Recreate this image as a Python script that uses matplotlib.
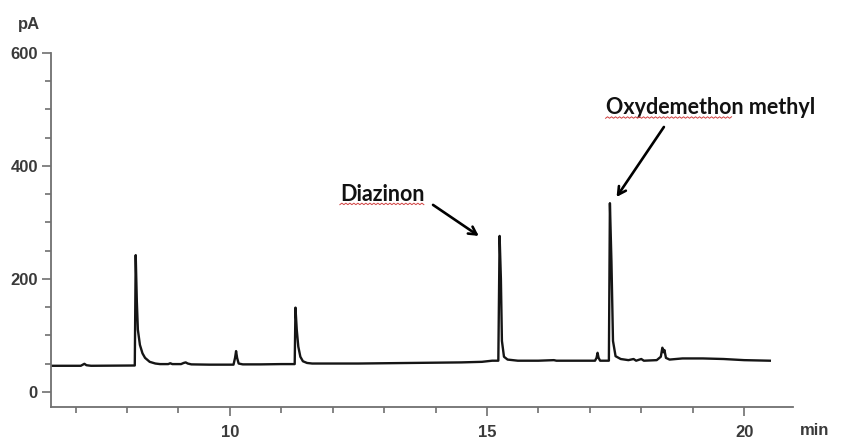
import numpy as np
import matplotlib
matplotlib.use("Agg")
import matplotlib.pyplot as plt
from matplotlib import font_manager as fm
from matplotlib.ticker import MultipleLocator

# chromatogram trace (time in min, signal in pA)
time = [6.52, 7.10, 7.14, 7.17, 7.21, 7.30, 8.15,
        8.168, 8.19, 8.21, 8.25, 8.30, 8.35, 8.44, 8.55, 8.64,
        8.80, 8.84, 8.88, 9.05, 9.10, 9.14, 9.18, 9.25, 9.60,
        10.07, 10.10, 10.12, 10.14, 10.17, 10.25, 10.60, 11.00,
        11.26, 11.275, 11.30, 11.33, 11.37, 11.42, 11.50, 11.60,
        12.50, 13.00, 13.50, 14.00, 14.50, 14.90, 15.10, 15.22,
        15.245, 15.27, 15.29, 15.33, 15.40, 15.60, 16.00, 16.30, 16.35, 16.60,
        17.10, 17.13, 17.15, 17.17, 17.20, 17.37,
        17.39, 17.42, 17.45, 17.50, 17.60, 17.75, 17.85, 17.90, 18.00, 18.05,
        18.30, 18.38, 18.41, 18.43, 18.45, 18.48, 18.55, 18.80, 19.20, 19.60,
        20.00, 20.50]
signal = [46, 46, 48, 49.5, 47, 46, 46.5,
          242, 160, 110, 83, 68, 60, 53, 50, 49,
          49, 50.5, 49, 49, 51, 52, 50, 48.5, 48,
          48, 60, 72, 60, 50, 48.5, 48.5, 49,
          49, 149, 110, 80, 62, 54, 51, 50,
          50, 50.5, 51, 51.5, 52, 53, 55, 55,
          276, 200, 90, 62, 57, 55, 55, 56, 55, 55,
          55, 60, 69, 60, 55, 55,
          334, 230, 90, 63, 58, 56, 58, 55, 58, 55,
          56, 62, 78, 70, 74, 60, 57, 59, 59, 58,
          56, 55]

peak_names = ["Diazinon", "Oxydemethon methyl"]
peak_tips = [(14.84, 276), (17.52, 345)]
arrow_tails = [(13.95, 331), (18.44, 469)]
label_pos = [(12.96, 350), (19.34, 503)]

names = {f.name for f in fm.fontManager.ttflist}
tick_font = ["Liberation Sans Narrow", "DejaVu Sans"] if "Liberation Sans Narrow" in names else ["Liberation Sans", "DejaVu Sans"]
label_font = ["Lato", "DejaVu Sans"] if "Lato" in names else ["DejaVu Sans"]

fig = plt.figure(figsize=(8.58, 4.41), dpi=100)
ax = fig.add_axes([0.0594, 0.0771, 0.8648, 0.8027])

ax.plot(time, signal, color="#151515", lw=1.7)

ax.set_xlim(6.52, 20.95)
ax.set_ylim(-27, 600)
for s in ["top", "right"]:
    ax.spines[s].set_visible(False)
for s in ["left", "bottom"]:
    ax.spines[s].set_color("#707070")
    ax.spines[s].set_linewidth(1.3)

ax.xaxis.set_major_locator(MultipleLocator(5))
ax.xaxis.set_minor_locator(MultipleLocator(1))
ax.yaxis.set_major_locator(MultipleLocator(200))
ax.yaxis.set_minor_locator(MultipleLocator(50))
ax.tick_params(which="both", colors="#707070", width=1.2)
ax.tick_params(which="major", length=6.5)
ax.tick_params(which="minor", length=4)
ax.tick_params(axis="x", which="major", pad=6.5)
ax.tick_params(axis="y", which="major", pad=3)
for lab in ax.get_xticklabels() + ax.get_yticklabels():
    lab.set_family(tick_font)
    lab.set_fontsize(12)
    lab.set_fontweight("bold")
    lab.set_color("#3a3a3a")

fig.text(0.0205, 0.945, "pA", family=tick_font, fontsize=12, fontweight="bold",
         color="#3a3a3a", va="center", ha="left")
fig.text(0.932, 0.006, "min", family=tick_font, fontsize=12, fontweight="bold",
         color="#3a3a3a", va="bottom", ha="left")

labels = []
for name, tip, tail, pos in zip(peak_names, peak_tips, arrow_tails, label_pos):
    ax.annotate("", xy=tip, xytext=tail,
                arrowprops=dict(arrowstyle="->,head_length=0.55,head_width=0.3",
                                color="black", lw=1.9, shrinkA=0, shrinkB=0))
    labels.append(ax.text(pos[0], pos[1], name, family=label_font, fontsize=15.5,
                          fontweight="bold", color="#111111", ha="center", va="center"))

# red spell-check squiggles under the first word of each label
fig.canvas.draw()
r = fig.canvas.get_renderer()
inv = fig.transFigure.inverted()
for t in labels:
    txt = t.get_text()
    word = txt.split()[0]
    bb = t.get_window_extent(r)
    frac = len(word) / len(txt)
    x0, x1 = bb.x0, bb.x0 + bb.width * frac
    xs = np.arange(x0, x1, 2.0)
    ys = bb.y0 + np.where(np.arange(len(xs)) % 2 == 0, 0, 1.5)
    pts = inv.transform(np.column_stack([xs, ys]))
    fig.add_artist(plt.Line2D(pts[:, 0], pts[:, 1], color="#d04040", lw=0.7,
                              transform=fig.transFigure))

fig.savefig("out.png", dpi=100)
